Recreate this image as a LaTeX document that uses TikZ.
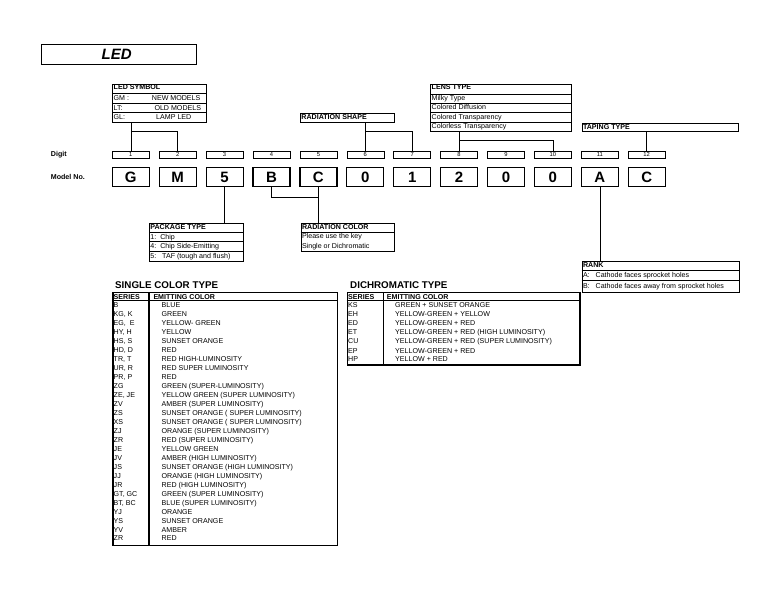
\documentclass[tikz,border=0pt]{standalone}
\usepackage{fontspec}
\setmainfont{Liberation Sans}
\begin{document}
\begin{tikzpicture}[x=1pt,y=-1pt,
  txt/.style={anchor=base west,inner sep=0pt,font=\fontsize{7.1}{8}\selectfont},
  hdr/.style={anchor=base west,inner sep=0pt,font=\fontsize{7.1}{8}\selectfont\bfseries},
  boxframe/.style={draw,line width=0.9pt,inner sep=0pt,anchor=north west},
  tableframe/.style={draw,line width=1.2pt,inner sep=0pt,anchor=north west},
  rowline/.style={line width=0.8pt},
  digitbox/.style={draw,line width=0.6pt,minimum width=37pt,minimum height=7pt,inner sep=0pt,font=\fontsize{5.8}{6}\selectfont},
  modelbox/.style={draw,line width=1.2pt,minimum width=37pt,minimum height=18.5pt,inner sep=0pt,font=\fontsize{15}{15}\selectfont\bfseries},
  conn/.style={line width=0.6pt}]
\useasboundingbox (0,0) rectangle (768,593);

% title
\node[draw,line width=1pt,minimum width=155pt,minimum height=20pt,inner sep=0pt,anchor=north west] (title) at (41,44) {};
\node[anchor=base west,inner sep=0pt,font=\fontsize{15}{15}\selectfont\bfseries\itshape] (titletxt) at (101.5,59.5) {LED};

% LED SYMBOL
\node[boxframe,minimum width=94pt,minimum height=38pt] (sym) at (112.3,84.3) {};
\foreach \yy in {93.7,103.3,112.7} \draw[rowline] (112.3,\yy) -- (206.3,\yy);
\node[hdr] (symh) at (113.5,89.3) {LED SYMBOL};
\node[txt] (syma) at (113.5,100.6) {GM :};
\node[txt] (symb) at (151.7,100.6) {NEW MODELS};
\node[txt] (symc) at (113.5,110.1) {LT:};
\node[txt] (symd) at (154.3,110.1) {OLD MODELS};
\node[txt] (syme) at (113.5,119.6) {GL:};
\node[txt] (symf) at (156,119.6) {LAMP LED};

% LENS TYPE
\node[boxframe,minimum width=140.7pt,minimum height=46.7pt] (lens) at (430,84.3) {};
\foreach \yy in {94,103.3,112.7,122} \draw[rowline] (430,\yy) -- (570.7,\yy);
\node[hdr] (lensh) at (431.5,89.3) {LENS TYPE};
\node[txt] (lensa) at (431.5,100.7) {Milky Type};
\node[txt] (lensb) at (431.5,110.0) {Colored Diffusion};
\node[txt] (lensc) at (431.5,119.4) {Colored Transparency};
\node[txt] (lensd) at (431.5,128.6) {Colorless Transparency};

% RADIATION SHAPE
\node[boxframe,minimum width=94.3pt,minimum height=9.3pt] (rshape) at (300,112.7) {};
\node[hdr] (rshapeh) at (301.2,119.6) {RADIATION SHAPE};

% TAPING TYPE
\node[boxframe,minimum width=156.6pt,minimum height=8.6pt] (tape) at (581.7,122.7) {};
\node[hdr] (tapeh) at (582.8,129.3) {TAPING TYPE};

% labels
\node[hdr] (digitlbl) at (50.7,156.5) {Digit};
\node[hdr] (modellbl) at (50.7,180) {Model No.};

% digit and model boxes
\foreach \i/\c in {1/G,2/M,3/5,4/B,5/C,6/0,7/1,8/2,9/0,10/0,11/A,12/C}{
  \node[digitbox] (d\i) at ({130.8+(\i-1)*46.9},154.6) {\i};
  \node[modelbox] (m\i) at ({130.8+(\i-1)*46.9},177) {\c};
}

% connectors above
\coordinate (symbr) at (0,131.7);
\coordinate (rsbr) at (0,131.7);
\coordinate (lensbr) at (0,140.7);
\coordinate (colbr) at (0,197.3);
\draw[conn] (sym.south -| d1.north) -- (d1.north);
\draw[conn] (d1.north |- symbr) -| (d2.north);
\draw[conn] (rshape.south -| d6.north) -- (d6.north);
\draw[conn] (d6.north |- rsbr) -| (d7.north);
\draw[conn] (lens.south -| d8.north) -- (d8.north);
\draw[conn] (d8.north |- lensbr) -| (d10.north);
\draw[conn] (tape.south -| d12.north) -- (d12.north);

% PACKAGE TYPE
\node[boxframe,minimum width=94.3pt,minimum height=38.6pt] (pkg) at (149,222.7) {};
\foreach \yy in {232.3,241.7,251} \draw[rowline] (149,\yy) -- (243.3,\yy);
\node[hdr] (pkgh) at (150.2,229.6) {PACKAGE TYPE};
\node[txt] (pkga) at (150.2,239.4) {1:\ \ Chip};
\node[txt] (pkgb) at (150.2,248.8) {4:\ \ Chip Side-Emitting};
\node[txt] (pkgc) at (150.2,258.3) {5:\ \ \ TAF (tough and flush)};

% RADIATION COLOR
\node[boxframe,minimum width=93.6pt,minimum height=28.3pt] (rcol) at (300.7,222.7) {};
\draw[rowline] (300.7,232.3) -- (394.3,232.3);
\node[hdr] (rcolh) at (301.8,229.6) {RADIATION COLOR};
\node[txt] (rcola) at (301.8,238.9) {Please use the key};
\node[txt] (rcolb) at (301.8,248.3) {Single or Dichromatic};

% RANK
\node[boxframe,minimum width=157.6pt,minimum height=30.7pt] (rank) at (581.7,261) {};
\foreach \yy in {270,280} \draw[rowline] (581.7,\yy) -- (739.3,\yy);
\node[hdr] (rankh) at (582.8,267.6) {RANK};
\node[txt] (ranka) at (582.8,277.2) {A:\ \ \ Cathode faces sprocket holes};
\node[txt] (rankb) at (582.8,288.6) {B:\ \ \ Cathode faces away from sprocket holes};

% connectors below
\draw[conn] (m3.south) -- (m3.south |- pkg.north);
\draw[conn] (m4.south) |- (colbr -| m5.south);
\draw[conn] (m5.south) -- (m5.south |- rcol.north);
\draw[conn] (m11.south) -- (m11.south |- rank.north);

% SINGLE COLOR TYPE
\node[anchor=base west,inner sep=0pt,font=\fontsize{9.8}{10}\selectfont\bfseries] (sctitle) at (115,289) {SINGLE COLOR TYPE};
\node[tableframe,minimum width=224.4pt,minimum height=252.7pt] (sct) at (112.3,292.3) {};
\draw[rowline] (112.3,300.7) -- (336.7,300.7);
\draw[line width=1.2pt] (149,292.3) -- (149,545);
\node[hdr] (scth1) at (113.5,299.2) {SERIES};
\node[hdr] (scth2) at (153.3,299.2) {EMITTING COLOR};
\foreach \s/\c [count=\k from 0] in {
  B/BLUE, {KG, K}/GREEN, {EG,\ \ E}/YELLOW- GREEN, {HY, H}/YELLOW, {HS, S}/SUNSET ORANGE,
  {HD, D}/RED, {TR, T}/RED HIGH-LUMINOSITY, {UR, R}/RED SUPER LUMINOSITY, {PR, P}/RED,
  ZG/GREEN (SUPER-LUMINOSITY), {ZE, JE}/YELLOW GREEN (SUPER LUMINOSITY),
  ZV/AMBER (SUPER LUMINOSITY), ZS/SUNSET ORANGE ( SUPER LUMINOSITY),
  XS/SUNSET ORANGE ( SUPER LUMINOSITY), ZJ/ORANGE (SUPER LUMINOSITY),
  ZR/RED (SUPER LUMINOSITY), JE/YELLOW GREEN, JV/AMBER (HIGH LUMINOSITY),
  JS/SUNSET ORANGE (HIGH LUMINOSITY), JJ/ORANGE (HIGH LUMINOSITY),
  JR/RED (HIGH LUMINOSITY), {GT, GC}/GREEN (SUPER LUMINOSITY),
  {BT, BC}/BLUE (SUPER LUMINOSITY), YJ/ORANGE, YS/SUNSET ORANGE, YV/AMBER, ZR/RED}{
  \node[txt] (scs\k) at (113.5,{308+\k*8.96}) {\s};
  \node[txt] (scc\k) at (161.5,{308+\k*8.96}) {\c};
}

% DICHROMATIC TYPE
\node[anchor=base west,inner sep=0pt,font=\fontsize{9.8}{10}\selectfont\bfseries] (dctitle) at (350,289) {DICHROMATIC TYPE};
\node[tableframe,minimum width=232.6pt,minimum height=72pt] (dct) at (346.7,292.3) {};
\draw[rowline] (346.7,300.7) -- (579.3,300.7);
\draw[line width=1.2pt] (383.3,292.3) -- (383.3,364.3);
\node[hdr] (dcth1) at (348,299.2) {SERIES};
\node[hdr] (dcth2) at (386.7,299.2) {EMITTING COLOR};
\foreach \s/\c [count=\k from 0] in {
  KS/GREEN + SUNSET ORANGE, EH/YELLOW-GREEN + YELLOW, ED/YELLOW-GREEN + RED,
  ET/YELLOW-GREEN + RED (HIGH LUMINOSITY), CU/YELLOW-GREEN + RED (SUPER LUMINOSITY),
  EP/YELLOW-GREEN + RED, HP/YELLOW + RED}{
  \node[txt] (dcs\k) at (348,{308+\k*9.0}) {\s};
  \node[txt] (dcc\k) at (395,{308+\k*9.0}) {\c};
}
\end{tikzpicture}
\end{document}
